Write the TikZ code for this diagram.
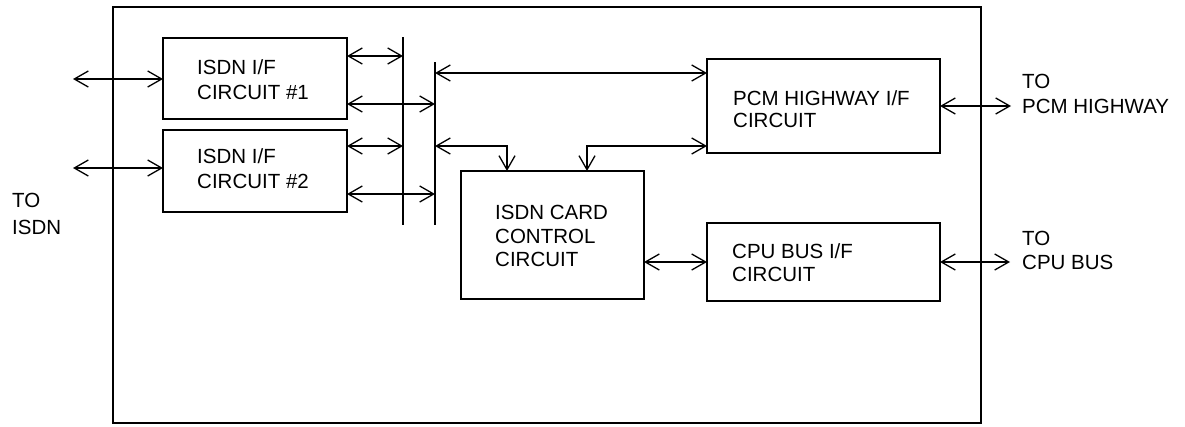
\documentclass[tikz,border=0pt]{standalone}
\usepackage{fontspec}
\setmainfont{Liberation Sans}
\usetikzlibrary{arrows.meta}
\begin{document}
\begin{tikzpicture}[x=1pt,y=-1pt,
  box/.style={draw,line width=1.5pt,inner sep=0pt,outer sep=0pt},
  lbl/.style={anchor=west,align=left,inner sep=0pt,font=\fontsize{20.5}{#1}\selectfont},
  bi/.style={{Straight Barb[length=14pt,width=16pt]}-{Straight Barb[length=14pt,width=16pt]},line width=1.3pt},
  bus/.style={line width=1.5pt}]
\useasboundingbox (0,0) rectangle (1185,426);
% outer frame
\node[box,line width=1.8pt,minimum width=868pt,minimum height=416pt] (frame) at (547,215) {};
% boxes
\node[box,minimum width=184pt,minimum height=81pt] (box1) at (255,78.5) {};
\node[box,minimum width=184pt,minimum height=82pt] (box2) at (255,171) {};
\node[box,minimum width=233pt,minimum height=94pt] (pcm) at (823.5,106) {};
\node[box,minimum width=183pt,minimum height=128pt] (card) at (552.5,235) {};
\node[box,minimum width=233pt,minimum height=78pt] (cpu) at (823.5,262) {};
% texts
\node[lbl=25] (t1) at (197,80) {ISDN I/F\\CIRCUIT \#1};
\node[lbl=25] (t2) at (197,168.5) {ISDN I/F\\CIRCUIT \#2};
\node[lbl=23.5] (tcard) at (495,236) {ISDN CARD\\CONTROL\\CIRCUIT};
\node[lbl=23] (tcpu) at (732,262.5) {CPU BUS I/F\\CIRCUIT};
\node[lbl=22] (tpcm) at (733,109.5) {PCM HIGHWAY I/F\\CIRCUIT};
\node[lbl=25] (toPCM) at (1022,94) {TO\\PCM HIGHWAY};
\node[lbl=24] (toCPU) at (1022,250) {TO\\CPU BUS};
\node[lbl=27] (toISDN) at (12,214) {TO\\ISDN};
% bus lines
\coordinate (b1t) at (403,37);
\coordinate (b1b) at (403,225);
\coordinate (b2t) at (435,62);
\coordinate (b2b) at (435,225);
\draw[bus] (b1t) -- (b1b);
\draw[bus] (b2t) -- (b2b);
% external arrows
\coordinate (L1) at (73,79);
\coordinate (L2) at (73,168);
\coordinate (R1) at (1011,106);
\coordinate (R2) at (1010,262);
\draw[bi] (L1) -- (box1.west |- L1);
\draw[bi] (L2) -- (box2.west |- L2);
\draw[bi] (pcm.east) -- (R1);
\draw[bi] (cpu.east) -- (R2);
% box to bus arrows
\draw[bi] (box1.east |- 0,56) -- (b1t |- 0,56);
\draw[bi] (box1.east |- 0,104) -- (b2t |- 0,104);
\draw[bi] (box2.east |- 0,146) -- (b1t |- 0,146);
\draw[bi] (box2.east |- 0,194) -- (b2t |- 0,194);
% bus2 to pcm / card
\draw[bi] (b2t |- 0,73) -- (pcm.west |- 0,73);
\coordinate (k1) at (507,146);
\coordinate (k2) at (587,146);
\draw[bi] (b2t |- k1) -- (k1) -- (card.north -| k1);
\draw[bi] (pcm.west |- k2) -- (k2) -- (card.north -| k2);
% card to cpu
\draw[bi] (card.east |- cpu.west) -- (cpu.west);
\end{tikzpicture}
\end{document}
